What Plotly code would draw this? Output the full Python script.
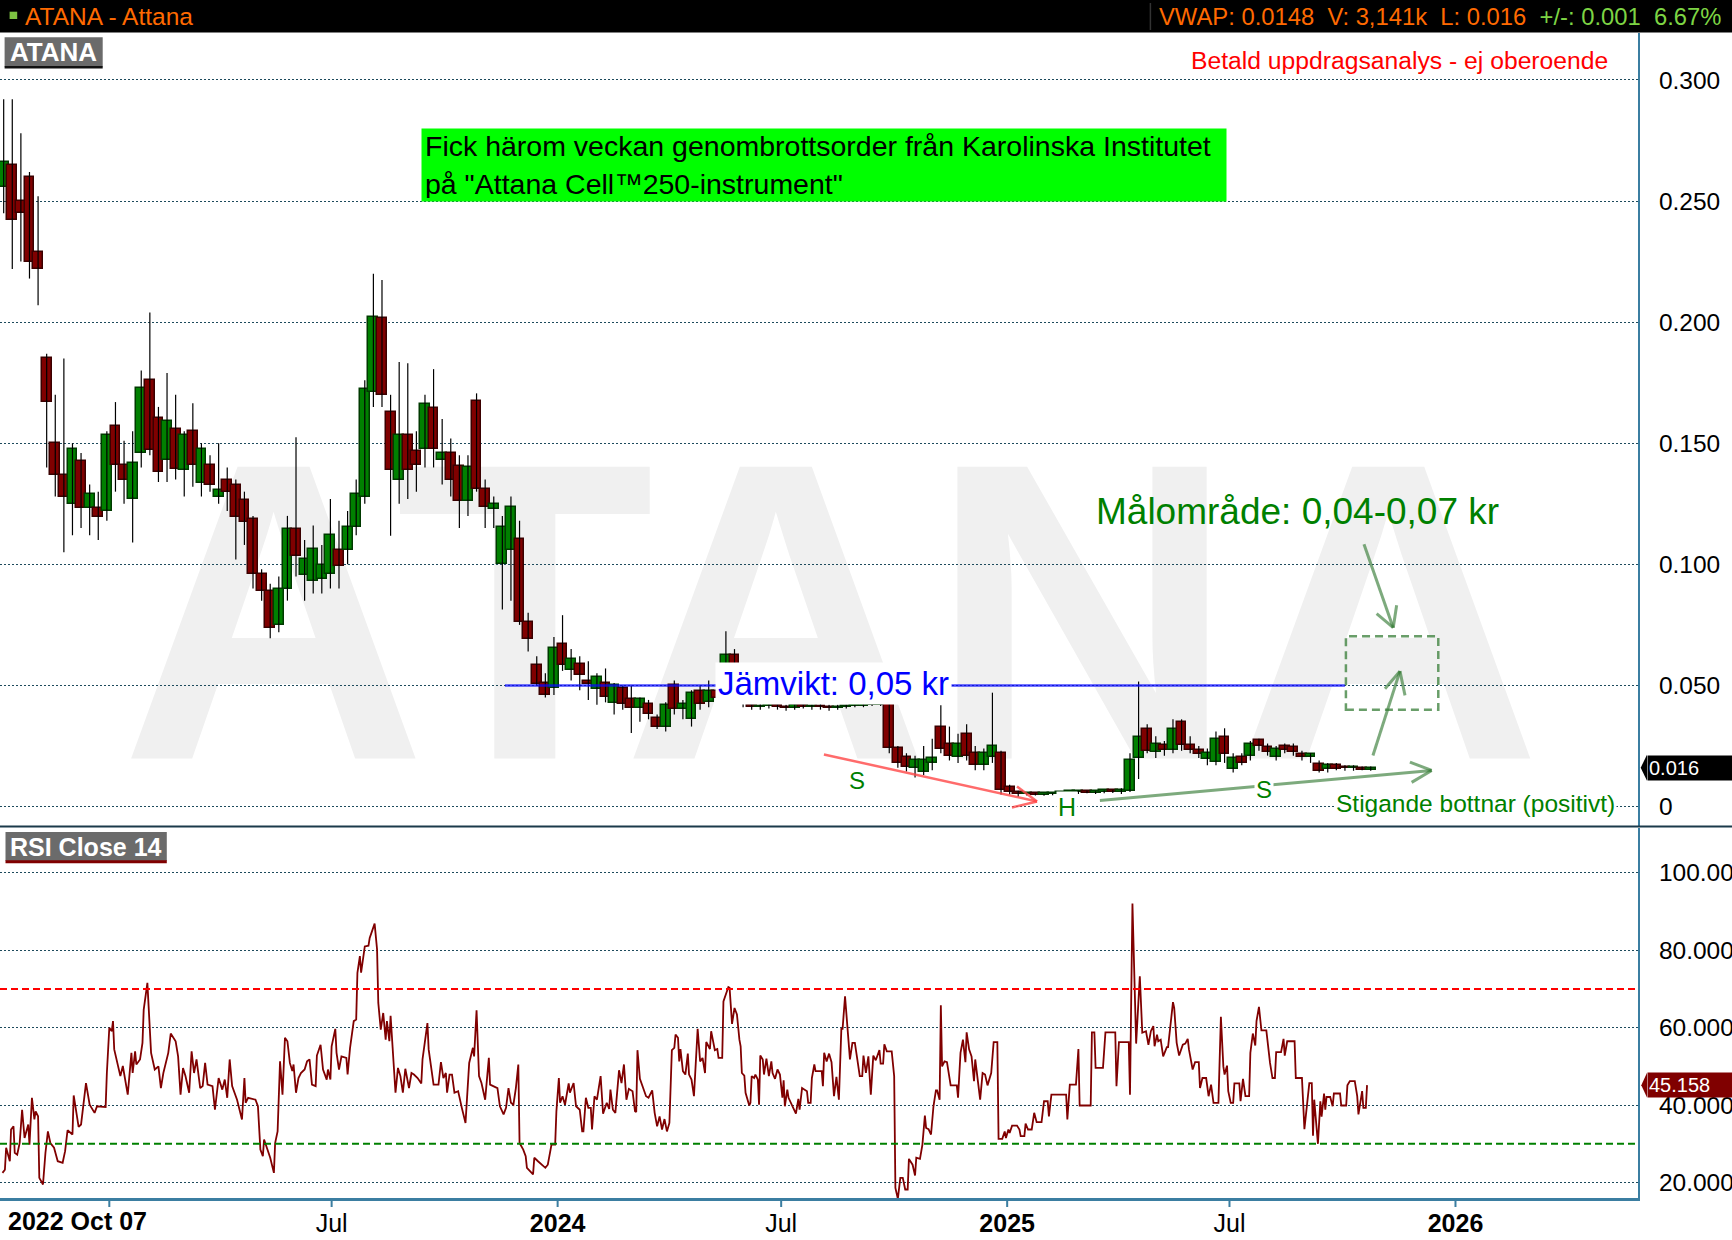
import pandas as pd
import plotly.graph_objects as go

# ---------------- data ----------------
candle_start = "2022-10-07"          # weekly candles
opens = [
    0.256, 0.265, 0.250, 0.260, 0.229, 0.185, 0.150, 0.137, 0.125, 0.1428,
    0.1234, 0.1234, 0.122, 0.157, 0.141, 0.127, 0.146, 0.176, 0.1606, 0.143,
    0.156, 0.139, 0.155, 0.1337, 0.141, 0.128, 0.135, 0.1326, 0.1265, 0.1188,
    0.096, 0.089, 0.075, 0.0898, 0.1146, 0.0955, 0.093, 0.0941, 0.0962, 0.106,
    0.106, 0.1155, 0.128, 0.171, 0.2016, 0.163, 0.135, 0.1536, 0.1467, 0.1475,
    0.1644, 0.143, 0.146, 0.1405, 0.126, 0.1675, 0.131, 0.123, 0.100, 0.1061,
    0.1105, 0.076, 0.0583, 0.051, 0.049, 0.067, 0.0562, 0.059, 0.052, 0.0487,
    0.051, 0.0427, 0.049, 0.0445, 0.0407, 0.0425, 0.0365, 0.033, 0.050, 0.0404,
    0.0362, 0.0477, 0.043, 0.0475, 0.0475, 0.0624, 0.045, 0.042, 0.041, 0.0415,
    0.042, 0.041, 0.0405, 0.042, 0.041, 0.0415, 0.041, 0.0405, 0.041, 0.0415,
    0.0415, 0.042, 0.042, 0.0425, 0.024, 0.0204, 0.016, 0.0142, 0.018, 0.0328,
    0.026, 0.0204, 0.030, 0.022, 0.017, 0.0204, 0.0221, 0.008, 0.006, 0.005,
    0.005, 0.0048, 0.005, 0.0052, 0.0055, 0.0058, 0.006, 0.0057, 0.006, 0.0062,
    0.006, 0.0066, 0.020, 0.032, 0.0224, 0.0255, 0.0234, 0.0348, 0.0255, 0.0234,
    0.0197, 0.0183, 0.0289, 0.0155, 0.0204, 0.021, 0.0273, 0.0245, 0.0204, 0.0249,
    0.0245, 0.0218, 0.0205, 0.0176, 0.0156, 0.017, 0.016, 0.0158, 0.016, 0.015,
]
highs = [
    0.292, 0.292, 0.278, 0.262, 0.252, 0.187, 0.170, 0.185, 0.150, 0.146,
    0.133, 0.130, 0.155, 0.167, 0.151, 0.155, 0.180, 0.204, 0.165, 0.179,
    0.170, 0.155, 0.1665, 0.150, 0.145, 0.150, 0.140, 0.135, 0.130, 0.120,
    0.098, 0.092, 0.095, 0.120, 0.1525, 0.110, 0.116, 0.108, 0.127, 0.118,
    0.122, 0.135, 0.176, 0.220, 0.2174, 0.170, 0.1835, 0.183, 0.155, 0.170,
    0.1806, 0.160, 0.152, 0.145, 0.145, 0.1706, 0.135, 0.128, 0.120, 0.128,
    0.118, 0.080, 0.062, 0.055, 0.070, 0.079, 0.065, 0.062, 0.060, 0.055,
    0.057, 0.051, 0.050, 0.050, 0.045, 0.044, 0.038, 0.043, 0.052, 0.044,
    0.048, 0.050, 0.052, 0.050, 0.0724, 0.065, 0.050, 0.044, 0.0425, 0.043,
    0.0425, 0.042, 0.0425, 0.043, 0.042, 0.0425, 0.042, 0.042, 0.042, 0.042,
    0.0425, 0.0425, 0.043, 0.043, 0.025, 0.022, 0.021, 0.025, 0.028, 0.0418,
    0.033, 0.030, 0.034, 0.025, 0.024, 0.047, 0.023, 0.009, 0.0065, 0.0055,
    0.0055, 0.0052, 0.0055, 0.0058, 0.006, 0.0065, 0.0065, 0.0063, 0.0066, 0.0068,
    0.0075, 0.022, 0.0516, 0.034, 0.029, 0.027, 0.036, 0.036, 0.029, 0.025,
    0.024, 0.031, 0.0323, 0.022, 0.022, 0.027, 0.028, 0.026, 0.025, 0.026,
    0.026, 0.023, 0.022, 0.019, 0.018, 0.018, 0.017, 0.017, 0.0165, 0.0165,
]
lows = [
    0.245, 0.222, 0.225, 0.218, 0.207, 0.140, 0.128, 0.105, 0.112, 0.115,
    0.112, 0.110, 0.118, 0.130, 0.125, 0.109, 0.140, 0.145, 0.134, 0.134,
    0.135, 0.128, 0.132, 0.128, 0.130, 0.125, 0.122, 0.102, 0.108, 0.090,
    0.085, 0.0695, 0.072, 0.085, 0.095, 0.085, 0.088, 0.088, 0.090, 0.090,
    0.100, 0.112, 0.125, 0.165, 0.165, 0.1118, 0.125, 0.127, 0.130, 0.140,
    0.140, 0.133, 0.128, 0.115, 0.120, 0.130, 0.115, 0.115, 0.0813, 0.085,
    0.075, 0.064, 0.050, 0.045, 0.046, 0.056, 0.052, 0.048, 0.044, 0.042,
    0.043, 0.038, 0.040, 0.0303, 0.035, 0.036, 0.032, 0.031, 0.038, 0.036,
    0.033, 0.040, 0.041, 0.044, 0.046, 0.055, 0.041, 0.040, 0.040, 0.0405,
    0.040, 0.0395, 0.040, 0.0405, 0.040, 0.040, 0.0395, 0.040, 0.0405, 0.041,
    0.041, 0.0415, 0.0415, 0.022, 0.016, 0.0145, 0.012, 0.013, 0.015, 0.022,
    0.019, 0.018, 0.019, 0.015, 0.015, 0.018, 0.005, 0.005, 0.004, 0.0045,
    0.0045, 0.0044, 0.0046, 0.0048, 0.005, 0.0052, 0.0055, 0.0052, 0.0055, 0.0056,
    0.0052, 0.006, 0.0114, 0.022, 0.020, 0.021, 0.022, 0.023, 0.022, 0.020,
    0.017, 0.017, 0.018, 0.014, 0.017, 0.019, 0.023, 0.021, 0.019, 0.022,
    0.021, 0.019, 0.018, 0.014, 0.014, 0.015, 0.0148, 0.0148, 0.015, 0.0148,
]
closes = [
    0.266, 0.242, 0.245, 0.225, 0.222, 0.167, 0.137, 0.128, 0.1476, 0.1234,
    0.129, 0.1196, 0.1535, 0.141, 0.135, 0.142, 0.173, 0.1474, 0.138, 0.159,
    0.1395, 0.1535, 0.141, 0.1476, 0.1326, 0.1306, 0.130, 0.1195, 0.1175, 0.096,
    0.089, 0.0737, 0.0898, 0.1146, 0.1035, 0.1024, 0.1063, 0.0996, 0.112, 0.0994,
    0.1155, 0.129, 0.1726, 0.2023, 0.170, 0.139, 0.1536, 0.139, 0.141, 0.1664,
    0.1476, 0.146, 0.135, 0.126, 0.140, 0.1313, 0.1235, 0.125, 0.1155, 0.1237,
    0.076, 0.069, 0.0507, 0.046, 0.0655, 0.0583, 0.061, 0.0545, 0.0505, 0.0535,
    0.0452, 0.050, 0.0425, 0.0407, 0.0445, 0.038, 0.033, 0.042, 0.0404, 0.0425,
    0.0469, 0.0425, 0.0475, 0.045, 0.0624, 0.0576, 0.0425, 0.041, 0.0415, 0.042,
    0.041, 0.0405, 0.042, 0.041, 0.0415, 0.041, 0.0405, 0.041, 0.0415, 0.0415,
    0.042, 0.042, 0.0425, 0.024, 0.018, 0.0163, 0.019, 0.0193, 0.020, 0.0239,
    0.021, 0.0259, 0.0207, 0.017, 0.022, 0.0248, 0.0067, 0.006, 0.005, 0.005,
    0.0048, 0.005, 0.0052, 0.0055, 0.0058, 0.006, 0.0057, 0.006, 0.0062, 0.006,
    0.0066, 0.019, 0.0289, 0.0231, 0.0259, 0.0233, 0.032, 0.0255, 0.0234, 0.0215,
    0.022, 0.0279, 0.0217, 0.0201, 0.0179, 0.0259, 0.0248, 0.0225, 0.0238, 0.0235,
    0.0225, 0.0205, 0.0215, 0.0146, 0.017, 0.0156, 0.0158, 0.016, 0.0152, 0.016,
]

rsi_start = "2022-10-04"             # RSI observations: days after this date
rsi_day = [
    2, 4, 5, 8, 9, 11, 12, 14, 16, 18,
    20, 23, 24, 26, 28, 29, 31, 32, 35, 37,
    39, 41, 44, 47, 51, 53, 55, 59, 60, 64,
    66, 68, 70, 73, 77, 79, 86, 87, 89, 91,
    92, 93, 96, 98, 100, 104, 107, 108, 110, 111,
    114, 116, 117, 120, 121, 123, 126, 129, 131, 133,
    137, 139, 143, 145, 147, 149, 151, 154, 156, 158,
    160, 163, 165, 167, 169, 173, 175, 178, 181, 183,
    185, 187, 189, 193, 197, 199, 200, 202, 208, 210,
    212, 214, 215, 217, 220, 223, 224, 226, 228, 230,
    232, 234, 236, 238, 239, 241, 243, 245, 248, 250,
    252, 254, 257, 258, 261, 263, 266, 267, 269, 270,
    273, 274, 276, 278, 282, 283, 285, 288, 290, 291,
    293, 294, 297, 300, 301, 305, 307, 308, 310, 312,
    314, 315, 317, 318, 320, 322, 324, 326, 328, 330,
    333, 335, 337, 340, 343, 344, 348, 349, 353, 357,
    359, 361, 363, 364, 366, 368, 370, 373, 376, 379,
    382, 385, 386, 388, 390, 392, 395, 398, 399, 405,
    407, 410, 412, 414, 416, 418, 420, 422, 423, 426,
    428, 429, 434, 435, 438, 441, 444, 446, 449, 452,
    453, 455, 456, 458, 460, 463,
    464, 467, 469, 472, 474, 475, 477, 479, 481, 482,
    484, 486, 489, 491, 494, 496, 497, 499, 501, 503,
    504, 506, 508, 510, 512, 515, 517, 518, 519, 521,
    523, 526, 528, 531, 533, 535, 537, 539, 541, 543,
    545, 547, 549, 550, 552, 553, 554, 556, 558, 560,
    561, 563, 565, 568, 570, 572, 574, 575, 578, 579,
    582, 584, 585, 588, 589, 593, 594, 596, 598, 600,
    602, 603, 604, 606, 607, 610, 611, 612, 614, 615,
    617, 618, 619, 621, 622, 624, 626, 628, 629, 631,
    633, 635, 637, 638, 639, 641, 642, 645, 648, 650,
    651, 653, 655, 657, 658, 660, 661, 663, 664, 669,
    670, 671, 673, 675, 677, 679, 681, 683, 685, 686,
    688, 690, 692, 694, 696, 698, 700, 702, 703, 705,
    707, 709, 711, 713, 716, 717, 719, 720, 722, 726,
    728, 729, 731, 733, 735, 737, 739, 740, 743, 745,
    746, 749, 751, 753, 754, 756, 758, 760, 762, 763,
    765, 766, 767, 769, 771, 774, 779, 780, 782, 784,
    786, 787, 789, 791, 793, 794, 797, 798, 800, 802,
    804, 807, 809, 812, 813, 816, 818, 819, 821, 822,
    824, 828, 830, 831, 834, 835, 837, 840, 842, 844,
    848, 850, 853, 854, 856, 868, 869, 871, 876, 878,
    879, 888, 889, 891, 892, 898, 900, 908, 909, 911,
    919, 920, 922, 925,
    928, 930, 933, 935, 937, 939, 940, 942, 943, 945,
    947, 950, 951, 953, 955, 956, 958, 960, 963, 965,
    967, 968, 971, 973, 976, 977, 979, 982, 984, 986,
    988, 992, 994, 996, 997, 999, 1000, 1002, 1004, 1005,
    1009, 1010, 1012, 1014, 1017, 1018, 1020, 1022, 1023, 1025,
    1027, 1031, 1033, 1034, 1036, 1038, 1039, 1043, 1045, 1046,
    1048, 1054, 1055, 1060, 1062, 1066, 1068, 1069, 1070, 1073,
    1075, 1076, 1078, 1079, 1080, 1083, 1085, 1086, 1091, 1092,
    1096, 1097, 1099, 1103, 1105, 1106, 1109, 1110, 1112, 1113,
]
rsi_val = [
    22.5, 23.3, 29, 25.5, 33.7, 34.5, 27.7, 27.2, 30.2, 38.8,
    31.5, 35, 29.8, 41.9, 36.3, 38.4, 37.1, 21.2, 19.5, 27.7,
    33.2, 30.2, 29, 25.5, 25.1, 28.1, 33.5, 32.4, 42.5, 34.4,
    35, 40.1, 45.7, 40.1, 38, 39.7, 39.5, 48.3, 60, 59.1,
    61.7, 54.4, 50.5, 47.5, 50.1, 42.7, 53.5, 48.3, 53.9, 50.5,
    51.8, 56.1, 64.7, 71.6, 65.5, 53.5, 49.2, 50, 44.4, 48.3,
    53.5, 58.5, 56.5, 52.6, 42.7, 49.6, 47.5, 43.2, 53.9, 48.3,
    51.8, 44.4, 44.9, 50.9, 45.3, 44.9, 38.8, 47, 44, 46.6,
    41.9, 51.8, 44.9, 41.4, 36.3, 47, 40.6, 41.9, 41.4, 39.7,
    28.5, 26.8, 31.1, 29.4, 26.4, 22.5, 30.2, 33.2, 51.3, 42.7,
    57.4, 56.5, 50.9, 48.8, 50.5, 43.2, 47, 48.3, 49.2, 51.3,
    51.8, 45.3, 44.9, 52.8, 55.6, 49.2, 46.6, 49.2, 46.6, 55.2,
    59.7, 53.5, 49.2, 52.6, 52.2, 47.9, 54.8, 61.7, 62.1, 74.2,
    78.5, 74.2, 81, 81.2, 83.2, 86.9, 80.2, 66.4, 59.5, 63.8,
    56.9, 61.7, 56.5, 63.1, 52.6, 43.2, 49.6, 47.5, 43.2, 49.4,
    44.4, 48.3, 47.9, 47, 45.6, 51.8, 61.2, 54.4, 45.3, 45.3,
    51.1, 47, 48.3, 43.2, 47.9, 47.9, 43.2, 43.6, 39.3, 35.4,
    50.9, 54.8, 52.6, 64.5, 47.5, 45.7, 41.4, 52.2, 45.3, 44.4,
    39.7, 37.6, 39.3, 44.4, 40.6, 40.1, 44.4, 50.5, 30.2, 28.5,
    26.8, 23.8, 22.1, 26.4, 25.5, 24.6, 23.8, 24.6, 29.8, 29.8,
    38.4, 47, 40.6, 42.3, 40.1, 45.6,
    43.2, 45.7, 39.7, 38.8, 33.2, 33.2, 41.9, 39.3, 39.3, 33.7,
    42.3, 41.4, 47.5, 37.8, 40.6, 39, 44, 38.8, 38, 45.3,
    49, 45.7, 50.5, 41.4, 44.2, 43.6, 38.4, 38.2, 54.2, 46.8,
    44.9, 42.3, 41.9, 43.8, 38, 34.5, 37.1, 33.7, 36.4, 33.2,
    35.4, 54.2, 54.8, 58.2, 57.4, 51.3, 54.5, 48.8, 47.9, 53.3,
    47.9, 46.6, 42.3, 59.7, 51.3, 52.2, 48.3, 56.3, 54.5, 59.1,
    54.2, 54.5, 52.2, 52.2, 66.8, 70.5, 70.3, 61, 65.1, 63.4,
    56.9, 55.2, 48.3, 47.6, 43.2, 39.9, 40.6, 47.5, 47, 47.9,
    46.6, 40.1, 52.8, 51.8, 47.9, 52, 47.5, 51.3, 48.3, 46.8,
    49.2, 47.9, 41.9, 46.4, 39.7, 44, 41.9, 39.7, 37.8, 41.6,
    38.8, 44.4, 44, 43.6, 40.6, 40.6, 47, 50.5, 48.8, 48.8,
    44.9, 53.5, 51.3, 53.3, 51.1, 42.3, 47.3, 41.4, 59.7, 59.7,
    68.1, 60.4, 51.8, 56.1, 56.1, 51.8, 47.5, 47.5, 52.8, 48.3,
    52.6, 42.7, 52.8, 51.6, 54.2, 50.7, 50.7, 55.7, 53.9, 53.9,
    47.5, 18.6, 15.8, 21.2, 21.2, 18.2, 18.2, 26.1, 24.6, 21.8,
    26.4, 26.1, 29.8, 37.3, 34.1, 33.8, 32.4, 39.7, 43.8, 43.8,
    41.4, 65.8, 50, 51.3, 51.1, 45.1, 45.1, 41.9, 53.5, 56.9,
    51.1, 58.8, 54.4, 52.6, 46.2, 51.8, 42.7, 41.4, 48.3, 47.9,
    45.1, 48.3, 56.3, 56.3, 31.3, 31.3, 33.2, 31.5, 33.7, 32.8,
    34.7, 34.7, 33.7, 32, 32, 35.2, 33.7, 33.7, 38, 35.6,
    35.6, 41, 41, 37.1, 42.7, 42.7, 36.3, 45.3, 45.3, 54.5,
    39.9, 39.9, 58.8, 58.8, 49.6, 49.6, 58.8, 58.8, 44.9, 56.3,
    56.3, 42.7, 92.1, 55.9,
    73.3, 58.7, 59.1, 55.6, 59.1, 60.4, 55.2, 58.2, 56.5, 56.9,
    52.6, 55, 55, 60.8, 66.6, 65.1, 56.1, 52.8, 55.6, 55.9,
    57.1, 54.4, 49.2, 51.1, 51.1, 44.4, 47, 47, 42.3, 45.3,
    40.6, 40.6, 62.8, 50, 47.9, 50.2, 43.6, 40.6, 40.6, 45.6,
    45.6, 41, 46.8, 42.3, 42.3, 53.5, 58.5, 55.4, 61.7, 65.4,
    59.3, 59.3, 53.5, 50.9, 47, 47, 53.7, 53.7, 57.1, 52.8,
    56.5, 56.5, 47, 47, 33.8, 45.7, 45.7, 32.1, 41.4, 30,
    41, 37, 43, 38.8, 42.1, 42.1, 39.7, 43, 43, 39.9,
    39.9, 45.1, 46.2, 46.2, 42.3, 37.6, 43.6, 39.3, 39.3, 45.158,
]

price_ticks = [0, 0.05, 0.10, 0.15, 0.20, 0.25, 0.30]
price_tick_text = ["0", "0.050", "0.100", "0.150", "0.200", "0.250", "0.300"]
rsi_ticks = [20, 40, 60, 80, 100]
rsi_tick_text = ["20.000", "40.000", "60.000", "80.000", "100.000"]
x_ticks = ["2023-01-01", "2023-07-01", "2024-01-01", "2024-07-01",
           "2025-01-01", "2025-07-01", "2026-01-01"]
x_tick_text = ["", "Jul", "<b>2024</b>", "Jul", "<b>2025</b>", "Jul", "<b>2026</b>"]

equilibrium = 0.05
target_low, target_high = 0.04, 0.07
rsi_overbought, rsi_oversold = 70, 30
last_price = 0.016
last_rsi = 45.158

assert len(opens) == len(highs) == len(lows) == len(closes)
assert len(rsi_day) == len(rsi_val)

# ---------------- geometry ----------------
W, H = 1732, 1240
ML, MR, MT, MB = 0, 94, 33, 42
PW, PH = W - ML - MR, H - MT - MB
FONT = "Liberation Sans, Arial, sans-serif"


def px(xo):
    return (xo - ML) / PW


def py(yo):
    return (H - MB - yo) / PH


base_day = pd.Timestamp("2022-10-04")


def D(n):
    return (base_day + pd.Timedelta(days=n)).strftime("%Y-%m-%d %H:%M")


dates = pd.date_range(candle_start, periods=len(opens), freq="7D")
date_s = [d.strftime("%Y-%m-%d") for d in dates]
rsi_dates = [(pd.Timestamp(rsi_start) + pd.Timedelta(days=d)).strftime("%Y-%m-%d")
             for d in rsi_day]

# ---------------- traces ----------------
wick_x, wick_y = [], []
for d, h, l in zip(date_s, highs, lows):
    wick_x += [d, d, None]
    wick_y += [l, h, None]

up = [c >= o for o, c in zip(opens, closes)]
body_base = [min(o, c) for o, c in zip(opens, closes)]
body_h = [max(abs(c - o), 0.0007) for o, c in zip(opens, closes)]
fills = ["#008000" if u else "#800000" for u in up]
edges = ["#003a00" if u else "#3a0000" for u in up]

fig = go.Figure()
fig.add_trace(go.Scatter(x=wick_x, y=wick_y, mode="lines",
                         line=dict(color="#000000", width=1.2),
                         xaxis="x", yaxis="y", hoverinfo="skip", showlegend=False))
fig.add_trace(go.Bar(x=date_s, y=body_h, base=body_base, width=8 * 86400000,
                     marker=dict(color=fills, line=dict(color=edges, width=1.5)),
                     xaxis="x", yaxis="y", showlegend=False))
fig.add_trace(go.Scatter(x=rsi_dates, y=rsi_val, mode="lines",
                         line=dict(color="#800000", width=1.8),
                         xaxis="x2", yaxis="y2", showlegend=False))

GRID = "#1d4a5c"
AXC = "#3b7ea1"
x_range = [D(0), D(1333.6)]

fig.update_layout(
    width=W, height=H,
    margin=dict(l=ML, r=MR, t=MT, b=MB, pad=0, autoexpand=False),
    paper_bgcolor="white", plot_bgcolor="white",
    barmode="overlay", bargap=0,
    showlegend=False,
    font=dict(family=FONT, color="black"),
    xaxis=dict(domain=[0, 1], anchor="y", type="date", range=x_range,
               automargin=False,
               showticklabels=False, showgrid=False, zeroline=False,
               showline=False, ticks=""),
    xaxis2=dict(domain=[0, 1], anchor="y2", type="date", matches="x", range=x_range,
                automargin=False,
                tickmode="array", tickvals=x_ticks, ticktext=x_tick_text,
                tickfont=dict(size=25, color="black", family=FONT),
                ticks="", ticklabelstandoff=1,
                showline=True, linecolor=AXC, linewidth=3,
                showgrid=False, zeroline=False),
    yaxis=dict(domain=[py(826.5), 1], anchor="x", side="right",
               range=[-0.00826, 0.3194], automargin=False,
               tickmode="array", tickvals=price_ticks, ticktext=price_tick_text,
               tickfont=dict(size=24.5, color="black", family=FONT),
               ticks="", ticklabelstandoff=14,
               showgrid=True, gridcolor=GRID, gridwidth=1, griddash="2px,2px",
               zeroline=False, showline=True, linecolor=AXC, linewidth=2),
    yaxis2=dict(domain=[0, py(828)], anchor="x2", side="right",
                range=[16.0, 111.6], automargin=False,
                tickmode="array", tickvals=rsi_ticks, ticktext=rsi_tick_text,
                tickfont=dict(size=24.5, color="black", family=FONT),
                ticks="", ticklabelstandoff=14,
                showgrid=True, gridcolor=GRID, gridwidth=1, griddash="2px,2px",
                zeroline=False, showline=True, linecolor=AXC, linewidth=2),
)

shapes = []
# watermark
shapes.append(dict(type="rect", xref="paper", yref="paper", layer="below",
                   x0=px(831) - 0.3, x1=px(831) + 0.3, y0=py(719), y1=py(424),
                   line=dict(width=0), fillcolor="rgba(0,0,0,0)",
                   label=dict(text="ATANA", textposition="middle center",
                              font=dict(family=FONT, size=424, color="#f0f0f0",
                                        weight="bold"))))
# x-axis tick marks below the bottom axis line
for t in x_ticks:
    shapes.append(dict(type="line", xref="x2", yref="paper", x0=t, x1=t,
                       y0=py(1199), y1=py(1207), line=dict(color=AXC, width=2)))
# top black bar
shapes.append(dict(type="rect", xref="paper", yref="paper", x0=0, x1=W / PW,
                   y0=py(32.5), y1=py(0), line=dict(width=0), fillcolor="#000000"))
shapes.append(dict(type="rect", xref="paper", yref="paper", x0=px(9.6), x1=px(17.2),
                   y0=py(19), y1=py(11.7), line=dict(width=0), fillcolor="#7dc242"))
shapes.append(dict(type="line", xref="paper", yref="paper", x0=px(1150.4), x1=px(1150.4),
                   y0=py(30), y1=py(3), line=dict(color="#333333", width=1.5)))
# "ATANA" tag
shapes.append(dict(type="rect", xref="paper", yref="paper", x0=px(4.6), x1=px(102.7),
                   y0=py(66.5), y1=py(37.3), line=dict(width=0), fillcolor="#6b6b6b"))
shapes.append(dict(type="line", xref="paper", yref="paper", x0=px(4.6), x1=px(102.7),
                   y0=py(67.3), y1=py(67.3), line=dict(color="#111111", width=2.5)))
# "RSI Close 14" tag
shapes.append(dict(type="rect", xref="paper", yref="paper", x0=px(5.5), x1=px(166.8),
                   y0=py(861), y1=py(832), line=dict(width=0), fillcolor="#6b6b6b"))
shapes.append(dict(type="line", xref="paper", yref="paper", x0=px(5.5), x1=px(166.8),
                   y0=py(861.7), y1=py(861.7), line=dict(color="#800000", width=3)))
# divider between panes
shapes.append(dict(type="line", xref="paper", yref="paper", x0=0, x1=W / PW,
                   y0=py(826.5), y1=py(826.5), line=dict(color="#1b3a4b", width=2)))
# RSI levels
shapes.append(dict(type="line", xref="paper", yref="y2", x0=0, x1=1,
                   y0=rsi_overbought, y1=rsi_overbought,
                   line=dict(color="#ff0000", width=2, dash="7px,4px")))
shapes.append(dict(type="line", xref="paper", yref="y2", x0=0, x1=1,
                   y0=rsi_oversold, y1=rsi_oversold,
                   line=dict(color="#008000", width=2, dash="7px,4px")))
# equilibrium line
shapes.append(dict(type="line", xref="x", yref="y", x0=D(411.1), x1=D(1095),
                   y0=equilibrium, y1=equilibrium,
                   line=dict(color="rgba(10,10,255,0.75)", width=2.5)))
# red falling-bottom arrow
RED = "rgba(255,70,70,0.8)"
for (a, b, c, d) in [(670.8, 0.02149, 844.3, 0.00207),
                     (828.0, 0.00826, 844.3, 0.00207),
                     (823.9, -0.00041, 844.3, 0.00207)]:
    shapes.append(dict(type="line", xref="x", yref="y", x0=D(a), y0=b, x1=D(c), y1=d,
                       line=dict(color=RED, width=2.5)))
# green arrows
GRN = "rgba(55,125,55,0.65)"
for (a, b, c, d) in [(895.5, 0.0025, 1165.6, 0.01488),
                     (1147.9, 0.01831, 1165.6, 0.01488),
                     (1149.3, 0.00997, 1165.6, 0.01488),
                     (1117.8, 0.02107, 1139.8, 0.05591),
                     (1127.6, 0.04864, 1139.8, 0.05591),
                     (1143.9, 0.04587, 1139.8, 0.05591),
                     (1110.5, 0.10826, 1134.3, 0.07384),
                     (1120.8, 0.07963, 1134.3, 0.07384),
                     (1137.1, 0.08306, 1134.3, 0.07384)]:
    shapes.append(dict(type="line", xref="x", yref="y", x0=D(a), y0=b, x1=D(c), y1=d,
                       line=dict(color=GRN, width=3)))
# target zone
shapes.append(dict(type="rect", xref="x", yref="y", x0=D(1095.8), x1=D(1171),
                   y0=target_low, y1=target_high + 0.0003, fillcolor="rgba(0,0,0,0)",
                   line=dict(color="rgba(55,125,55,0.75)", width=2.5, dash="8px,5px")))
# last-value pointers
shapes.append(dict(type="path", xref="paper", yref="y", fillcolor="#000000",
                   line=dict(width=0),
                   path=f"M {px(1640.7)},{last_price} L {px(1647)},{last_price + 0.0054} "
                        f"L {px(1647)},{last_price - 0.0054} Z"))
shapes.append(dict(type="path", xref="paper", yref="y2", fillcolor="#800000",
                   line=dict(width=0),
                   path=f"M {px(1641.3)},{last_rsi} L {px(1647)},{last_rsi + 3.2} "
                        f"L {px(1647)},{last_rsi - 3.2} Z"))
fig.update_layout(shapes=shapes)

NB = "\u00a0"
ann = []
ann.append(dict(xref="paper", yref="paper", x=px(22.7), y=py(16), xanchor="left",
                yanchor="middle", showarrow=False, text="ATANA - Attana",
                font=dict(family=FONT, size=24.5, color="#ff6a00")))
ann.append(dict(xref="paper", yref="paper", x=px(1723), y=py(16), xanchor="right",
                yanchor="middle", showarrow=False,
                text=(f"<span style='color:#ff6a00'>VWAP: 0.0148{NB}{NB}V: 3,141k{NB}{NB}"
                      f"L: 0.016{NB}{NB}</span><span style='color:#7dd444'>+/-: 0.001"
                      f"{NB}{NB}6.67%</span>"),
                font=dict(family=FONT, size=23.8, color="#ff6a00")))
ann.append(dict(xref="paper", yref="paper", x=px(53.6), y=py(52), xanchor="center",
                yanchor="middle", showarrow=False, text="<b>ATANA</b>",
                font=dict(family=FONT, size=26, color="white")))
ann.append(dict(xref="paper", yref="paper", x=px(86.2), y=py(846.5), xanchor="center",
                yanchor="middle", showarrow=False, text="<b>RSI Close 14</b>",
                font=dict(family=FONT, size=25, color="white")))
ann.append(dict(xref="paper", yref="paper", x=px(1610), y=py(61), xanchor="right",
                yanchor="middle", showarrow=False,
                text="Betald uppdragsanalys - ej oberoende",
                font=dict(family=FONT, size=24.7, color="#ff0000")))
ann.append(dict(xref="paper", yref="paper", x=px(421), y=py(128), xanchor="left",
                yanchor="top", showarrow=False, align="left", valign="middle",
                width=798, height=66, borderpad=3, bgcolor="#00ff00",
                text=("Fick härom veckan genombrottsorder från Karolinska Institutet<br>"
                      "på \"Attana Cell™250-instrument\""),
                font=dict(family=FONT, size=28.5, color="black")))
ann.append(dict(xref="x", yref="y", x=D(678.6), y=0.0508, xanchor="center",
                yanchor="middle", showarrow=False, text="Jämvikt: 0,05 kr",
                bgcolor="white", borderpad=2,
                font=dict(family=FONT, size=33, color="#0000ff")))
ann.append(dict(xref="x", yref="y", x=D(890.3), y=0.1219, xanchor="left",
                yanchor="middle", showarrow=False, text="Målområde: 0,04-0,07 kr",
                font=dict(family=FONT, size=37, color="#008000")))
ann.append(dict(xref="x", yref="y", x=D(698.1), y=0.0107, showarrow=False, text="S",
                font=dict(family=FONT, size=24, color="#008000")))
ann.append(dict(xref="x", yref="y", x=D(868.4), y=-0.0001, showarrow=False, text="H",
                bgcolor="white", font=dict(family=FONT, size=25, color="#008000")))
ann.append(dict(xref="x", yref="y", x=D(1029.1), y=0.00702, showarrow=False, text="S",
                bgcolor="white", font=dict(family=FONT, size=24, color="#008000")))
ann.append(dict(xref="x", yref="y", x=D(1201.2), y=0.00124, showarrow=False,
                text="Stigande bottnar (positivt)", bgcolor="white", borderpad=1,
                font=dict(family=FONT, size=24.5, color="#008000")))
ann.append(dict(xref="paper", yref="y", x=px(1647), y=last_price, xanchor="left",
                yanchor="middle", showarrow=False, text="0.016", align="left",
                width=84, borderpad=1, bgcolor="#000000",
                font=dict(family=FONT, size=20, color="white")))
ann.append(dict(xref="paper", yref="y2", x=px(1647), y=last_rsi, xanchor="left",
                yanchor="middle", showarrow=False, text="45.158", align="left",
                width=84, borderpad=1, bgcolor="#800000",
                font=dict(family=FONT, size=20, color="white")))
ann.append(dict(xref="paper", yref="paper", x=px(5.5), y=py(1220.5), xanchor="left",
                yanchor="middle", showarrow=False, text="<b>2022 Oct 07</b>",
                font=dict(family=FONT, size=25, color="black")))
fig.update_layout(annotations=ann)

# page without the browser's default body margin or scrollbars, so the
# figure fills the window exactly; no hover toolbar over the header bar
fig.write_html(
    "out.html",
    config={"displayModeBar": False},
    post_script=("document.documentElement.style.overflow='hidden';"
                 "document.body.style.margin='0';"
                 "document.body.style.overflow='hidden';"),
)
